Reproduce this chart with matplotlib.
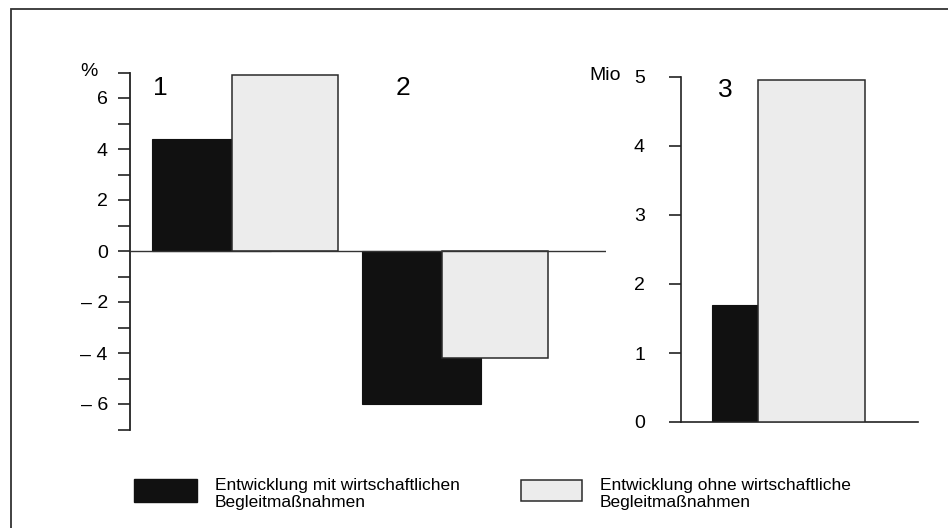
import matplotlib
matplotlib.use("Agg")
import matplotlib.pyplot as plt
from matplotlib.patches import Rectangle
from matplotlib.ticker import FixedLocator

plt.rcParams['font.family'] = ['Liberation Sans', 'DejaVu Sans']

# ---- data ----
groups_left = ["1", "2"]
with_measures_pct = [4.4, -6.0]      # Entwicklung mit wirtschaftlichen Begleitmaßnahmen (%)
without_measures_pct = [6.9, -4.2]   # Entwicklung ohne wirtschaftliche Begleitmaßnahmen (%)
groups_right = ["3"]
with_measures_mio = [1.7]
without_measures_mio = [4.95]
left_major_ticks = [-6, -4, -2, 0, 2, 4, 6]
left_major_labels = ["– 6", "– 4", "– 2", "0", "2", "4", "6"]
left_minor_ticks = [-7, -5, -3, -1, 1, 3, 5, 7]
right_ticks = [0, 1, 2, 3, 4, 5]
legend_labels = ["Entwicklung mit wirtschaftlichen\nBegleitmaßnahmen",
                 "Entwicklung ohne wirtschaftliche\nBegleitmaßnahmen"]

W, H = 948, 528
DARK = "#111111"
LIGHT = "#ececec"
EDGE = "#2a2a2a"
TICK_FS = 14
LEG_FS = 12.5

fig = plt.figure(figsize=(W / 100, H / 100), dpi=100)

def fx(px):
    return px / W

def fy(py):
    return (H - py) / H

# outer frame (left and top edges visible)
fig.add_artist(Rectangle((fx(11), fy(560)), fx(1000), fy(9) - fy(560),
                         transform=fig.transFigure, fill=False,
                         edgecolor="#333333", linewidth=1.3))

unit = 209.5  # px per x-unit
# ---- left panel ----
axL = fig.add_axes([fx(130), fy(429.5), fx(606 - 130), (429.5 - 72.5) / H])
xs = list(range(len(groups_left)))
bw_dark = 119 / unit
bw_light = 106 / unit
off_dark = -80 / unit
axL.bar([x + off_dark for x in xs], with_measures_pct, width=bw_dark, align='edge',
        color=DARK, edgecolor=DARK, linewidth=0.8, zorder=2)
axL.bar(xs, without_measures_pct, width=bw_light, align='edge',
        color=LIGHT, edgecolor=EDGE, linewidth=1.1, zorder=3)
axL.set_xlim((130 - 232) / unit, (606 - 232) / unit)
axL.set_ylim(-7, 7)
axL.axhline(0, color="#333333", linewidth=1.0, zorder=4)
for s in ["top", "right", "bottom"]:
    axL.spines[s].set_visible(False)
axL.spines["left"].set_color("#222222")
axL.spines["left"].set_linewidth(1.3)
axL.set_xticks([])
axL.yaxis.set_major_locator(FixedLocator(left_major_ticks))
axL.set_yticklabels(left_major_labels)
axL.yaxis.set_minor_locator(FixedLocator(left_minor_ticks))
axL.tick_params(axis='y', which='both', length=9, width=1.2, color="#222222",
                labelsize=TICK_FS, pad=7)
axL.patch.set_alpha(0)
# group labels
label_dx_left = [-0.344, -0.184]
for x, dx, g in zip(xs, label_dx_left, groups_left):
    axL.text(x + dx, 6.4, g, fontsize=19, ha='center', va='center')
fig.text(fx(89), fy(71), "%", fontsize=14, ha='center', va='center')

# ---- right panel ----
axR = fig.add_axes([fx(681), fy(422), fx(918 - 681), (422 - 77) / H])
xr = list(range(len(groups_right)))
axR.bar([x - 46 / unit for x in xr], with_measures_mio, width=46 / unit, align='edge',
        color=DARK, edgecolor=DARK, linewidth=0.8, zorder=2)
axR.bar(xr, without_measures_mio, width=107 / unit, align='edge',
        color=LIGHT, edgecolor=EDGE, linewidth=1.1, zorder=3)
axR.set_xlim((681 - 758) / unit, (918 - 758) / unit)
axR.set_ylim(0, 5)
for s in ["top", "right"]:
    axR.spines[s].set_visible(False)
for s in ["left", "bottom"]:
    axR.spines[s].set_color("#222222")
    axR.spines[s].set_linewidth(1.2)
axR.set_xticks([])
axR.set_yticks(right_ticks)
axR.tick_params(axis='y', length=9, width=1.2, color="#222222", labelsize=TICK_FS, pad=17)
axR.patch.set_alpha(0)
for x, g in zip(xr, groups_right):
    axR.text(x - 0.157, 4.81, g, fontsize=19, ha='center', va='center')
fig.text(fx(605), fy(76), "Mio", fontsize=TICK_FS, ha='center', va='center')

# ---- legend ----
fig.add_artist(Rectangle((fx(134), fy(502)), fx(197 - 134), fy(479) - fy(502),
                         transform=fig.transFigure, facecolor=DARK, edgecolor=DARK))
fig.text(fx(215), fy(494), legend_labels[0], fontsize=LEG_FS, ha='left', va='center',
         linespacing=1.15)
fig.add_artist(Rectangle((fx(521), fy(501)), fx(582 - 521), fy(480) - fy(501),
                         transform=fig.transFigure, facecolor=LIGHT, edgecolor=EDGE,
                         linewidth=1.1))
fig.text(fx(600), fy(494), legend_labels[1], fontsize=LEG_FS, ha='left', va='center',
         linespacing=1.15)

fig.savefig("out.png", dpi=100)
